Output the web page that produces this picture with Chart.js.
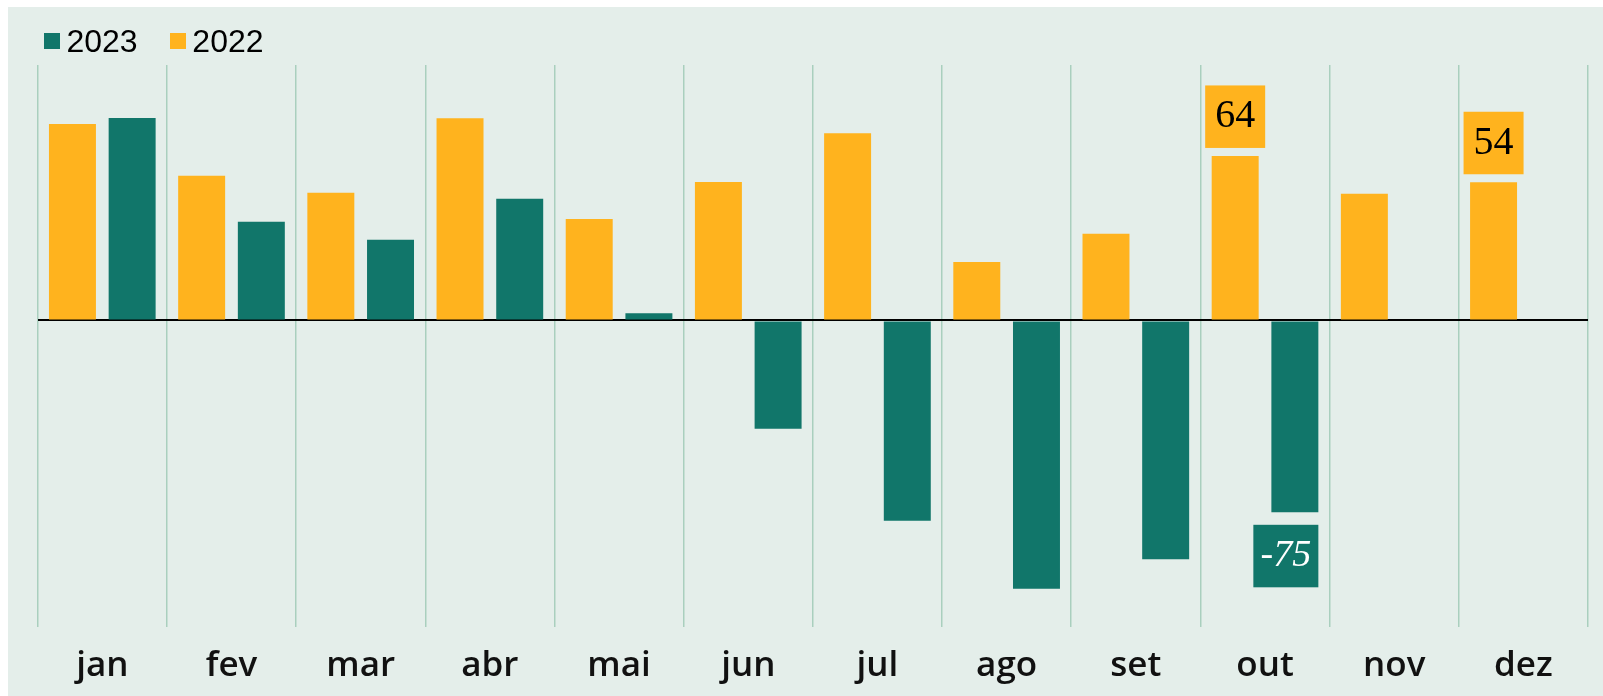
<!DOCTYPE html>
<html><head><meta charset="utf-8">
<script src="https://cdn.jsdelivr.net/npm/chart.js@4.4.0/dist/chart.umd.min.js"></script>
<style>
html,body{margin:0;padding:0;background:#fff;width:1603px;height:696px;overflow:hidden}
#panel{position:absolute;left:8px;top:7px;width:1595px;height:689px;background:#E4EEEA}
#wrap{position:absolute;left:0;top:0;width:1603px;height:696px}
#legend{position:absolute;left:44px;top:24.6px;display:flex;align-items:center;font-family:'Liberation Sans',Arial,sans-serif;font-size:32px;line-height:32px;color:#000}
.item{display:flex;align-items:center;margin-right:32.4px}
.sw{width:16px;height:16px;margin-right:6.4px}
</style></head><body>
<div id="panel"></div>
<div id="wrap"><canvas id="c" width="1603" height="696"></canvas></div>
<div id="legend"></div>
<script>
const categories = ['jan','fev','mar','abr','mai','jun','jul','ago','set','out','nov','dez'];
const seriesNames = ['2022','2023'];
const values2022 = [76.9, 56.6, 50.0, 79.2, 39.7, 54.2, 73.3, 22.9, 33.9, 64.4, 49.6, 54.1];
const values2023 = [79.3, 38.6, 31.6, 47.6, 2.8, -42.4, -78.4, -105.0, -93.5, -75.1, null, null];
const legendOrder = ['2023','2022'];
const labelledPoints = [['2022','out'], ['2022','dez'], ['2023','out']];
const yMin = -120, yMax = 100;

const ORANGE = '#FFB31E';
const TEAL = '#11766A';
const GRID = '#A9CFBE';
const colors = {'2022': ORANGE, '2023': TEAL};
const seriesValues = {'2022': values2022, '2023': values2023};

// HTML legend
const legendEl = document.getElementById('legend');
legendOrder.forEach(name => {
  const it = document.createElement('div'); it.className = 'item';
  const sw = document.createElement('div'); sw.className = 'sw'; sw.style.background = colors[name];
  const tx = document.createElement('span'); tx.textContent = name;
  it.appendChild(sw); it.appendChild(tx); legendEl.appendChild(it);
});

const valueLabelPlugin = {
  id: 'valueLabels',
  afterDatasetsDraw(chart) {
    const ctx = chart.ctx;
    ctx.save();
    labelledPoints.forEach(([series, month]) => {
      const dsIndex = chart.data.datasets.findIndex(d => d.label === series);
      const idx = chart.data.labels.indexOf(month);
      const el = chart.getDatasetMeta(dsIndex).data[idx];
      const v = chart.data.datasets[dsIndex].data[idx];
      const neg = v < 0;
      const text = String(Math.round(v));
      ctx.font = neg ? 'italic 38px "Liberation Serif"' : '40px "Liberation Serif"';
      const w = neg ? 65 : 60, h = 62.5;
      const cx = neg ? el.x + el.width / 2 - w / 2 : el.x;
      const top = neg ? el.y + 12.5 : el.y - 8 - h;
      ctx.fillStyle = chart.data.datasets[dsIndex].backgroundColor;
      ctx.fillRect(cx - w / 2, top, w, h);
      ctx.fillStyle = neg ? '#FFFFFF' : '#000000';
      ctx.textAlign = 'center';
      ctx.textBaseline = 'middle';
      ctx.fillText(text, cx, top + h / 2);
    });
    ctx.restore();
  }
};

function build() {
  new Chart(document.getElementById('c'), {
    type: 'bar',
    data: {
      labels: categories,
      datasets: seriesNames.map(name => ({
        label: name,
        data: seriesValues[name],
        backgroundColor: colors[name],
        borderWidth: 0,
        categoryPercentage: 0.924,
        barPercentage: 0.787
      }))
    },
    options: {
      responsive: false,
      animation: false,
      devicePixelRatio: 1,
      layout: { padding: { left: 37.7, right: 15, top: 65, bottom: 9 } },
      plugins: { legend: { display: false }, tooltip: { enabled: false } },
      scales: {
        x: {
          grid: { color: GRID, lineWidth: 1.5, drawTicks: false, offset: true },
          border: { display: false },
          ticks: { font: { family: 'Open Sans', size: 35, weight: '600' }, color: '#111111', padding: 18 },
          afterFit: s => { s.height = 60; }
        },
        y: {
          min: yMin, max: yMax,
          ticks: { display: false, stepSize: 20 },
          grid: {
            drawTicks: false,
            color: c => (c.tick && c.tick.value === 0) ? '#000000' : 'rgba(0,0,0,0)',
            lineWidth: c => (c.tick && c.tick.value === 0) ? 2 : 1
          },
          border: { display: false }
        }
      }
    },
    plugins: [valueLabelPlugin]
  });
}

Promise.all([
  document.fonts.load('600 35px "Open Sans"'),
  document.fonts.load('40px "Liberation Serif"'),
  document.fonts.load('italic 38px "Liberation Serif"')
]).then(build, build);
</script>
</body></html>
